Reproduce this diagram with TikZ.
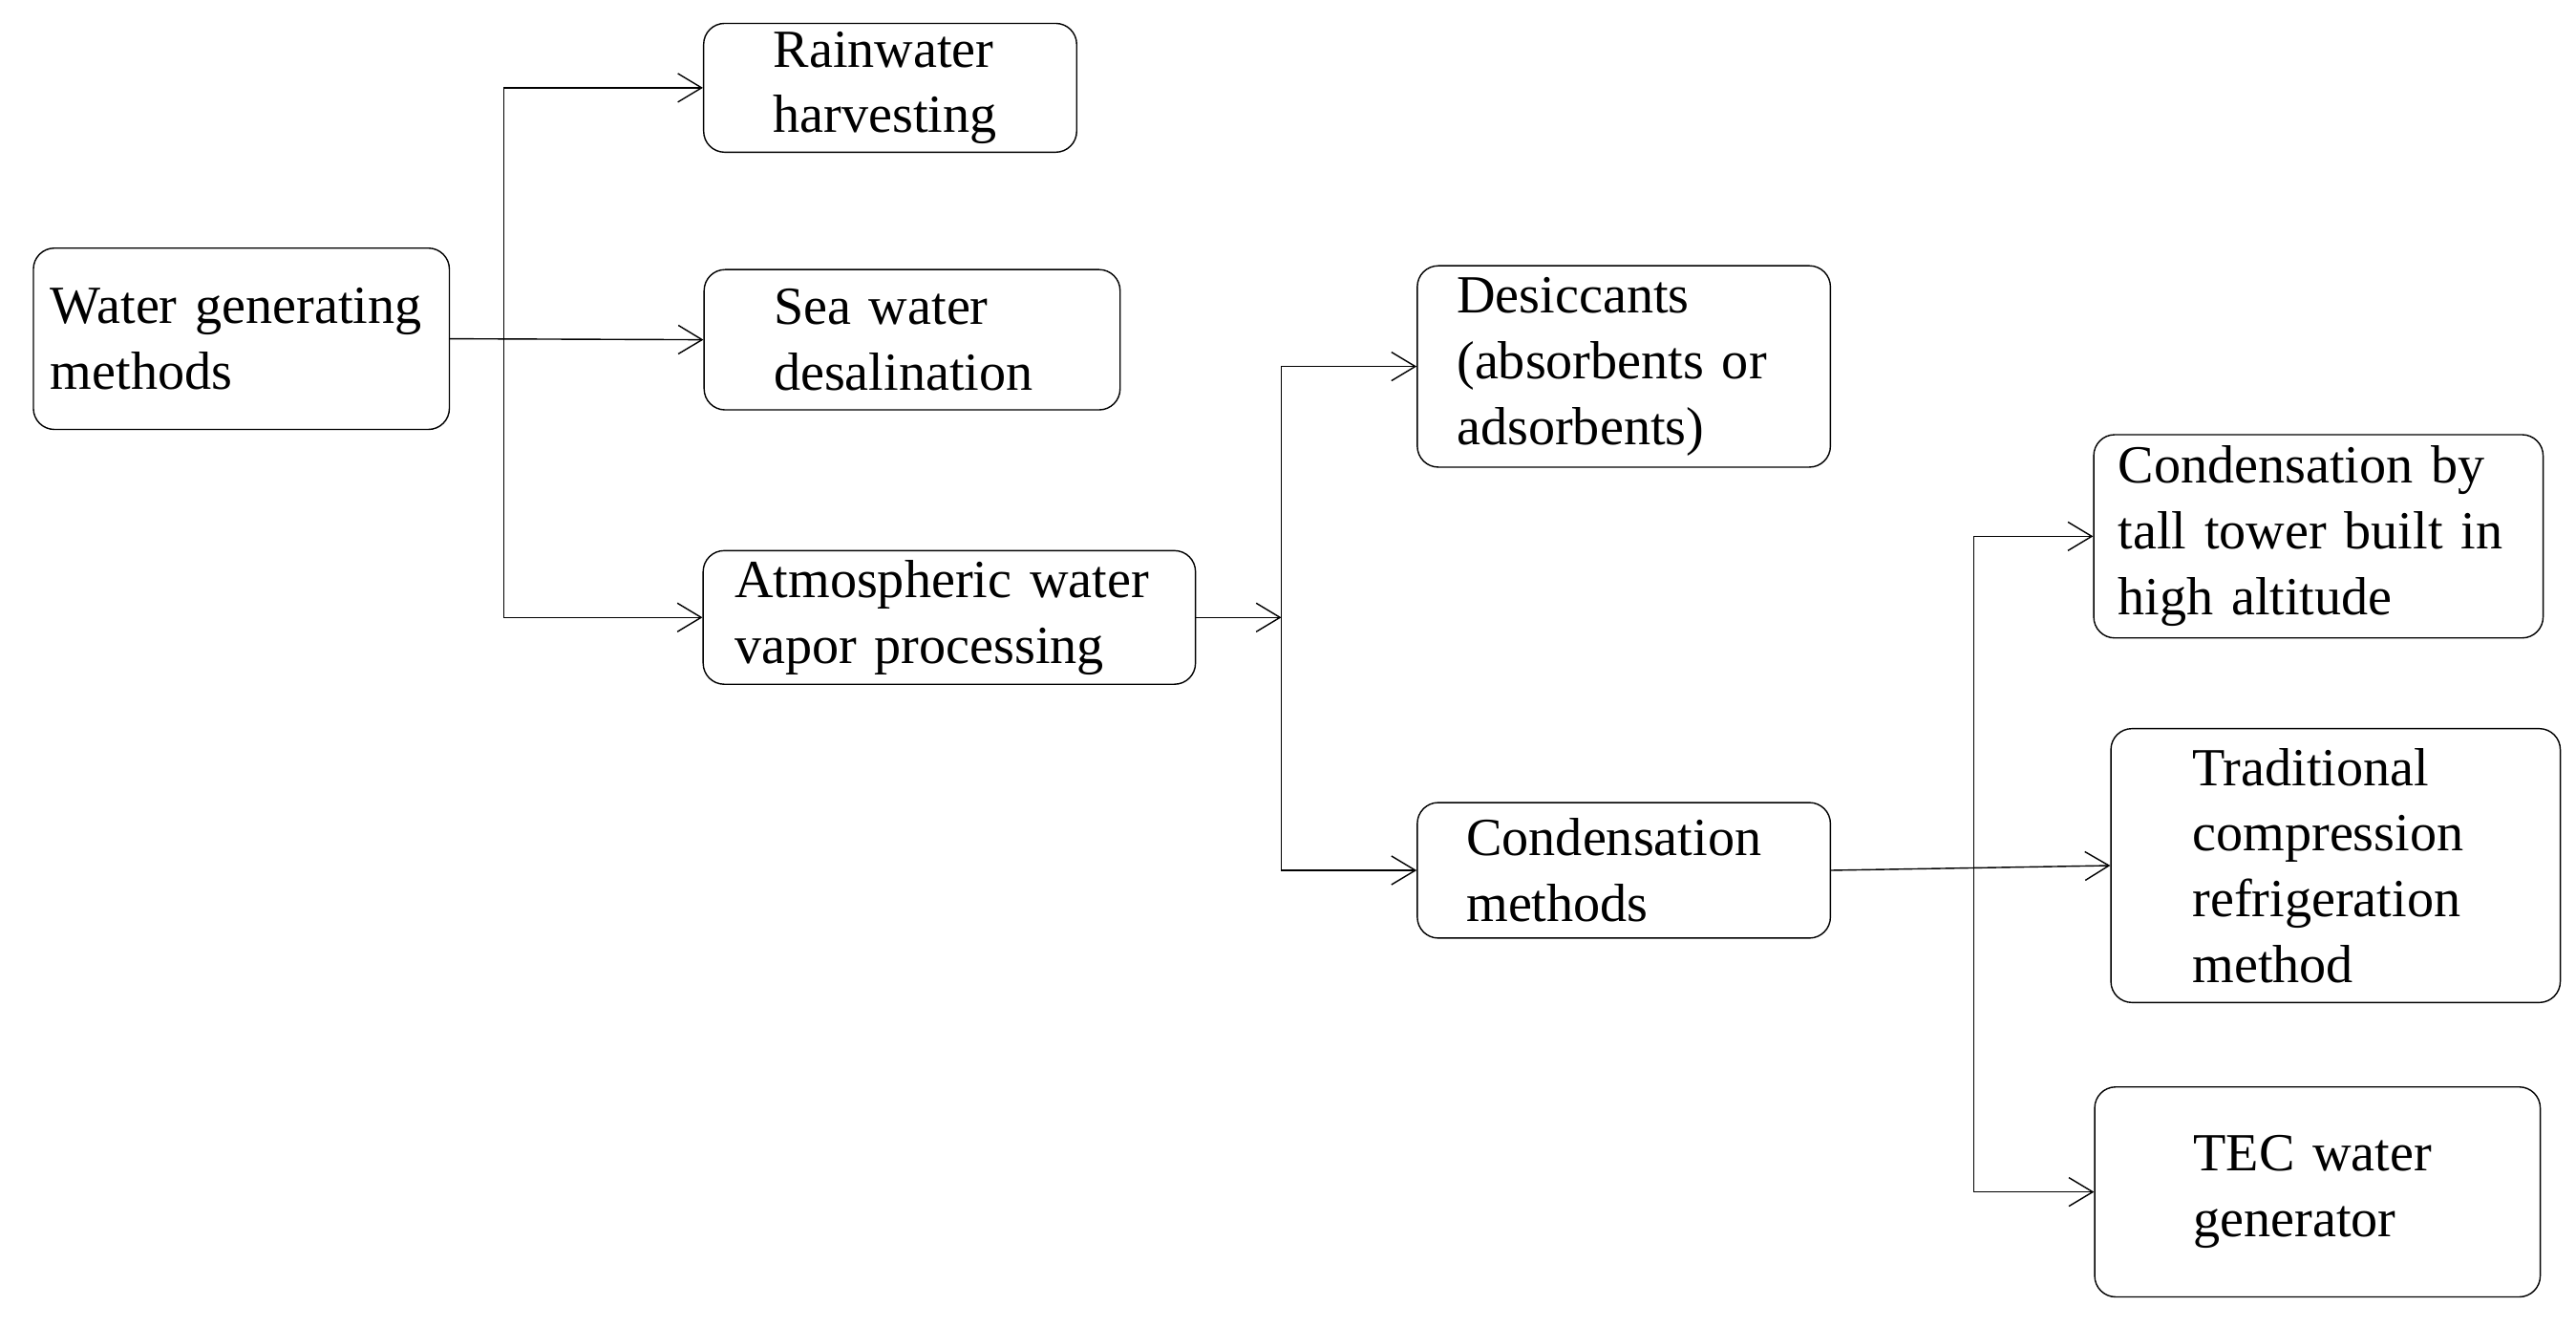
\documentclass[tikz,border=0pt]{standalone}
\usepackage{fontspec}
\setmainfont{Liberation Serif}
\usetikzlibrary{arrows.meta,positioning}
\tikzset{
    -{Straight Barb[length=2.5mm,width=3mm]},semithick,
    box/.style ={rectangle, draw, rounded corners=0.22cm, align=left,
                 font=\fontsize{16}{19.6}\selectfont, inner sep=0pt, -}
}
\begin{document}
\begin{tikzpicture}
    \useasboundingbox (0,0) rectangle (27,13.9);
    \node (wgm) at (2.53,10.35) [box, minimum width=4.36cm, minimum height=1.90cm, text width=4.0cm] {Water generating\\methods};
    \node (rain) at (9.33,12.98) [box, minimum width=3.91cm, minimum height=1.35cm, text width=2.45cm] {Rainwater\\harvesting};
    \node (sea) at (9.56,10.34) [box, minimum width=4.36cm, minimum height=1.47cm, text width=2.9cm] {Sea water\\desalination};
    \node (atm) at (9.95,7.43) [box, minimum width=5.16cm, minimum height=1.40cm, text width=4.5cm] {Atmospheric water\\vapor processing};
    \node (des) at (17.02,10.06) [box, minimum width=4.33cm, minimum height=2.11cm, text width=3.5cm] {Desiccants\\(absorbents or\\adsorbents)};
    \node (cond) at (17.02,4.78) [box, minimum width=4.33cm, minimum height=1.42cm, text width=3.3cm] {Condensation\\methods};
    \node (tall) at (24.30,8.28) [box, minimum width=4.71cm, minimum height=2.13cm, text width=4.2cm] {Condensation by\\tall tower built in\\high altitude};
    \node (trad) at (24.48,4.83) [box, minimum width=4.71cm, minimum height=2.87cm, text width=3.0cm] {Traditional\\compression\\refrigeration\\method};
    \node (tec) at (24.29,1.41) [box, minimum width=4.67cm, minimum height=2.20cm, text width=2.6cm] {TEC water\\generator};

    \coordinate (j1) at (5.28,10.35);
    \coordinate (j2) at (13.43,7.43);
    \coordinate (j3) at (20.69,4.78);

    \path (wgm.east) edge (sea.west);
		\draw (j1) |- (rain.west);
		\draw (j1) |- (atm.west);
		\path (atm.east) edge (j2);
		\draw (j2) |- (des.west);
		\draw (j2) |- (cond.west);
		\path (cond.east) edge (trad.west);
		\draw (j3) |- (tall.west);
		\draw (j3) |- (tec.west);
\end{tikzpicture}
\end{document}
